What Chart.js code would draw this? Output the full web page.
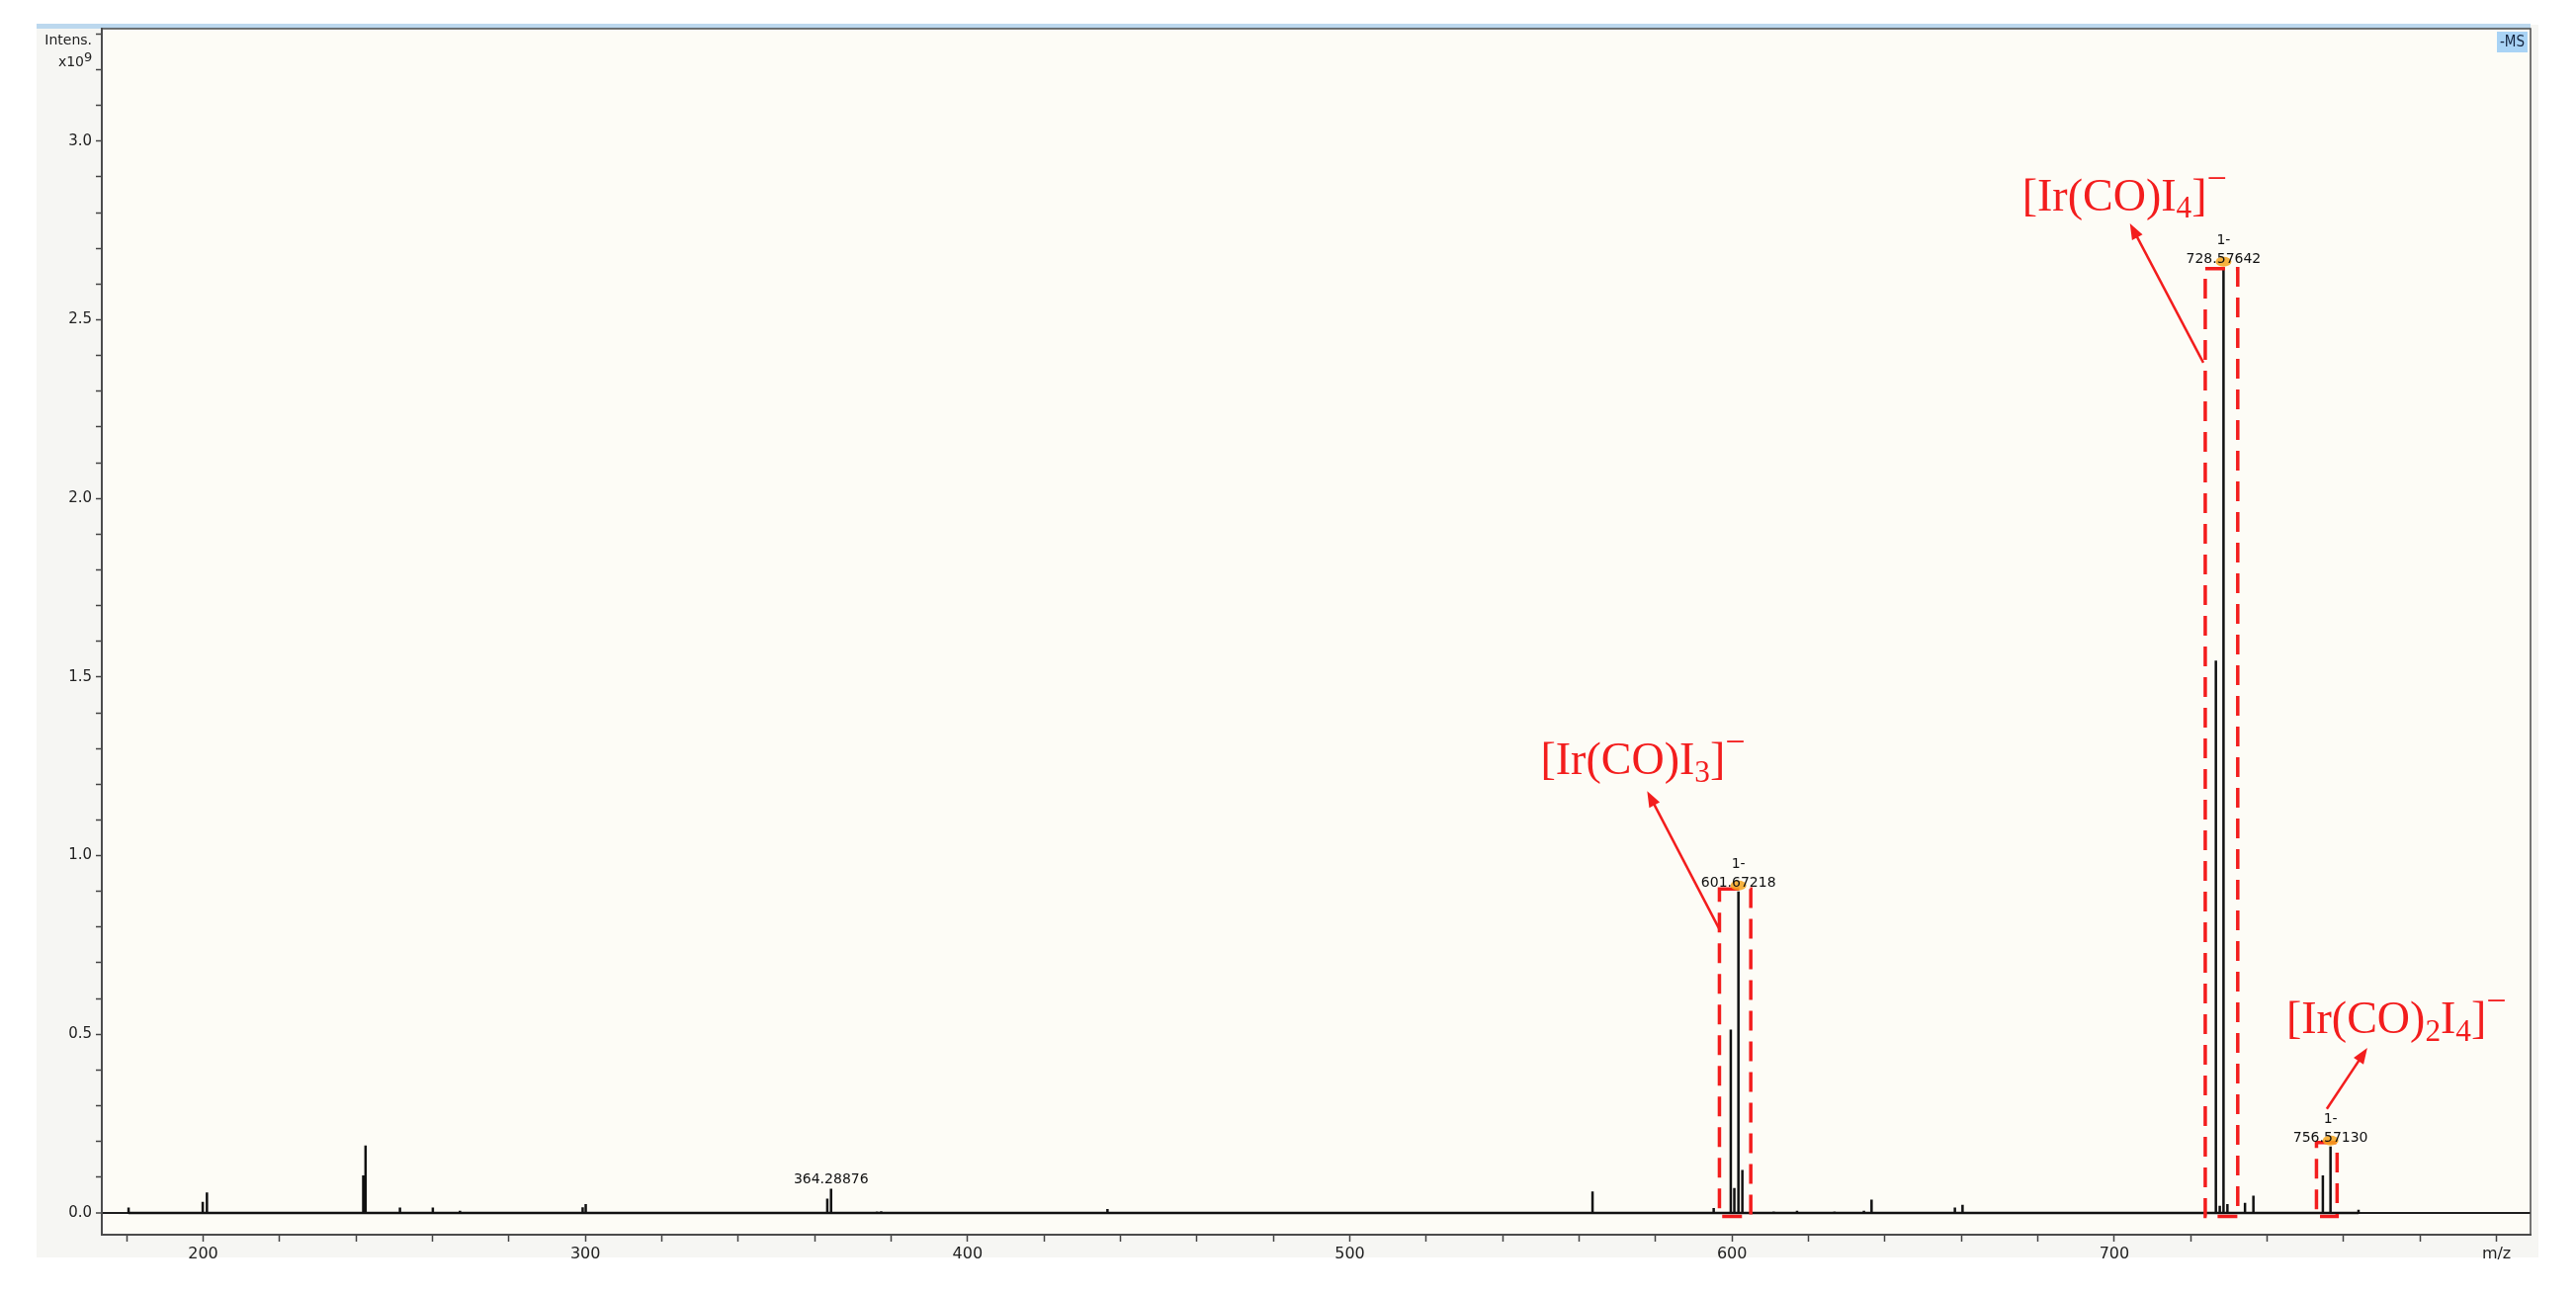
<!DOCTYPE html>
<html>
<head>
<meta charset="utf-8">
<title>-MS spectrum</title>
<script src="https://cdn.jsdelivr.net/npm/chart.js@4.4.1/dist/chart.umd.min.js"></script>
<style>
  html, body { margin: 0; padding: 0; background: #fff; }
  canvas { display: block; }
</style>
</head>
<body>
<canvas id="ms" width="2606" height="1311"></canvas>
<script>
// peak list: m/z and intensity (x10^9)
const peakMz = [180.5, 199.9, 201.0, 241.9, 242.5, 251.5, 260.1, 267.2, 299.3, 300.1,
  363.3, 364.28876, 367.5, 376.3, 377.4, 436.6, 563.5, 595.2,
  599.67, 600.6, 601.67218, 602.7, 610.9, 617.0, 626.8, 634.5, 636.5, 648.6, 658.3, 660.3,
  682.2, 694.3, 726.58, 727.6, 728.57642, 729.6, 734.2, 736.4, 745.3, 754.57, 756.57130, 763.9];
const peakInt = [0.015, 0.031, 0.057, 0.105, 0.189, 0.015, 0.015, 0.006, 0.016, 0.025,
  0.040, 0.068, 0.003, 0.004, 0.005, 0.011, 0.060, 0.014,
  0.513, 0.070, 0.900, 0.120, 0.004, 0.006, 0.004, 0.006, 0.037, 0.003, 0.015, 0.023,
  0.003, 0.003, 1.546, 0.020, 2.646, 0.025, 0.028, 0.048, 0.003, 0.105, 0.186, 0.009];

// labelled peaks
const labelMz = [364.28876, 601.67218, 728.57642, 756.57130];
const labelText = ["364.28876", "601.67218", "728.57642", "756.57130"];
const labelCharge = ["", "1-", "1-", "1-"];

// ion assignments (_ = subscript, ^ = superscript)
const ionName = ["[Ir(CO)I_3]^\u2212", "[Ir(CO)I_4]^\u2212", "[Ir(CO)_2I_4]^\u2212"];
const ionBoxLo = [596.7, 723.8, 752.9];
const ionBoxHi = [604.9, 732.3, 758.3];
const ionBoxTop = [0.907, 2.643, 0.197];
const ionTextMz = [549.9, 675.9, 745.0];
const ionTextInt = [1.228, 2.807, 0.503];
const arrowFrom = [[596.75, 0.793], [723.3, 2.380], [755.6, 0.291]];
const arrowTo = [[577.8, 1.181], [704.1, 2.770], [766.2, 0.462]];

const xTickStep = 20;
const yTickStep = 0.1;

const RED = "#f31d1d";
const spectrum = [];
peakMz.forEach((m, i) => {
  spectrum.push({ x: m, y: 0 }, { x: m, y: peakInt[i] }, { x: m, y: 0 });
});

function drawFormula(ctx, s, x, y, size) {
  let cx = x;
  for (let i = 0; i < s.length; i++) {
    let ch = s[i], sz = size, dy = 0;
    if (ch === "_") { ch = s[++i]; sz = size * 0.68; dy = size * 0.17; }
    else if (ch === "^") { ch = s[++i]; sz = size * 0.78; dy = -size * 0.45; }
    ctx.font = sz + 'px "Liberation Serif", "Times New Roman", serif';
    ctx.fillText(ch, cx, y + dy);
    cx += ctx.measureText(ch).width;
  }
}

function drawArrow(ctx, x1, y1, x2, y2) {
  const a = Math.atan2(y2 - y1, x2 - x1);
  const head = 16, w = 6;
  ctx.beginPath();
  ctx.moveTo(x1, y1);
  ctx.lineTo(x2 - head * 0.7 * Math.cos(a), y2 - head * 0.7 * Math.sin(a));
  ctx.stroke();
  ctx.beginPath();
  ctx.moveTo(x2, y2);
  ctx.lineTo(x2 - head * Math.cos(a) + w * Math.sin(a), y2 - head * Math.sin(a) - w * Math.cos(a));
  ctx.lineTo(x2 - head * Math.cos(a) - w * Math.sin(a), y2 - head * Math.sin(a) + w * Math.cos(a));
  ctx.closePath();
  ctx.fill();
}

const decor = {
  id: "decor",
  beforeDraw(chart) {
    const { ctx, chartArea: a } = chart;
    ctx.save();
    ctx.fillStyle = "#ffffff";
    ctx.fillRect(0, 0, chart.width, chart.height);
    ctx.fillStyle = "#f6f6f3";
    ctx.fillRect(a.left - 66, a.top - 4, a.right - a.left + 74, a.bottom - a.top + 27);
    ctx.fillStyle = "#fdfcf6";
    ctx.fillRect(a.left, a.top, a.right - a.left, a.bottom - a.top);
    ctx.fillStyle = "#bcd8ee";
    ctx.fillRect(a.left - 66, a.top - 5, a.right - a.left + 66, 5);
    ctx.restore();
  },
  afterDatasetsDraw(chart) {
    const { ctx, scales: { x, y } } = chart;
    ctx.save();
    // dashed boxes + arrows
    ctx.strokeStyle = RED;
    ctx.fillStyle = RED;
    ionName.forEach((name, i) => {
      const l = x.getPixelForValue(ionBoxLo[i]), r = x.getPixelForValue(ionBoxHi[i]);
      const t = y.getPixelForValue(ionBoxTop[i]), b = y.getPixelForValue(-0.01);
      ctx.lineWidth = 3.5;
      ctx.setLineDash([20, 11]);
      ctx.strokeRect(l, t, r - l, b - t);
      ctx.setLineDash([]);
      ctx.lineWidth = 2.5;
      drawArrow(ctx, x.getPixelForValue(arrowFrom[i][0]), y.getPixelForValue(arrowFrom[i][1]),
        x.getPixelForValue(arrowTo[i][0]), y.getPixelForValue(arrowTo[i][1]));
      ctx.textAlign = "left";
      ctx.textBaseline = "alphabetic";
      drawFormula(ctx, name, x.getPixelForValue(ionTextMz[i]), y.getPixelForValue(ionTextInt[i]), 46);
    });
    // peak labels
    labelMz.forEach((m, i) => {
      const k = peakMz.indexOf(m);
      const px = x.getPixelForValue(m), py = y.getPixelForValue(peakInt[k]);
      if (labelCharge[i]) {
        ctx.fillStyle = "rgba(245,165,30,0.85)";
        ctx.beginPath();
        ctx.ellipse(px, py - 6, 8, 5, 0, 0, Math.PI * 2);
        ctx.fill();
      }
      ctx.fillStyle = "#111";
      ctx.font = '14px "DejaVu Sans"';
      ctx.textAlign = "center";
      ctx.fillText(labelText[i], px, py - 5);
      if (labelCharge[i]) ctx.fillText(labelCharge[i], px, py - 24);
    });
    ctx.restore();
  },
  afterDraw(chart) {
    const { ctx, chartArea: a } = chart;
    ctx.save();
    ctx.strokeStyle = "#4a4a4a";
    ctx.lineWidth = 1.5;
    ctx.strokeRect(a.left, a.top, a.right - a.left, a.bottom - a.top);
    // -MS badge
    ctx.fillStyle = "#a9d3f5";
    ctx.fillRect(a.right - 34, a.top + 3, 31, 21);
    ctx.fillStyle = "#13233d";
    ctx.font = '15px "DejaVu Sans Condensed", "DejaVu Sans"';
    ctx.textAlign = "center";
    ctx.textBaseline = "middle";
    ctx.fillText("-MS", a.right - 18.5, a.top + 14);
    // axis unit
    ctx.fillStyle = "#222";
    ctx.font = '14px "DejaVu Sans"';
    ctx.textAlign = "right";
    ctx.textBaseline = "alphabetic";
    ctx.fillText("Intens.", a.left - 10, a.top + 16);
    ctx.fillText("x10", a.left - 18, a.top + 38);
    ctx.font = '13px "DejaVu Sans"';
    ctx.textAlign = "left";
    ctx.fillText("9", a.left - 18, a.top + 33);
    ctx.restore();
  },
};

new Chart(document.getElementById("ms"), {
  type: "line",
  data: {
    datasets: [{
      data: spectrum,
      borderColor: "#111",
      borderWidth: 2.5,
      borderJoinStyle: "bevel",
      pointRadius: 0,
      tension: 0,
      fill: false,
    }],
  },
  options: {
    responsive: false,
    devicePixelRatio: 1,
    animation: false,
    layout: { padding: { top: 29, right: 46, left: 0, bottom: 0 } },
    plugins: { legend: { display: false }, tooltip: { enabled: false } },
    scales: {
      x: {
        type: "linear", min: 173.5, max: 808.9,
        afterBuildTicks: (s) => {
          s.ticks = s.ticks.filter((t) => Math.abs(t.value / xTickStep - Math.round(t.value / xTickStep)) < 1e-6);
        },
        afterFit: (s) => { s.height = 62; },
        ticks: {
          stepSize: xTickStep, includeBounds: false, autoSkip: false, maxRotation: 0, padding: 3, color: "#222",
          font: { family: "DejaVu Sans", size: 16 },
          callback: (v) => {
            const r = Math.round(v);
            if (r % 100 !== 0) return "";
            return r === 800 ? "m/z" : String(r);
          },
        },
        grid: { drawOnChartArea: false, tickColor: "#444", tickLength: 7, tickWidth: 1.5 },
        border: { display: true, color: "#555", width: 2 },
      },
      y: {
        min: -0.061, max: 3.315,
        afterBuildTicks: (s) => {
          s.ticks = s.ticks.filter((t) => Math.abs(t.value / yTickStep - Math.round(t.value / yTickStep)) < 1e-6);
        },
        afterFit: (s) => { s.width = 103; },
        ticks: {
          stepSize: yTickStep, includeBounds: false, autoSkip: false, padding: 4, color: "#222",
          font: { family: "DejaVu Sans", size: 15 },
          callback: (v) => (Math.abs(v * 2 - Math.round(v * 2)) < 1e-6 ? Math.abs(v).toFixed(1) : ""),
        },
        grid: {
          drawOnChartArea: true,
          color: (c) => (c.tick && Math.abs(c.tick.value) < 1e-9 ? "#1e1e1e" : "rgba(0,0,0,0)"),
          lineWidth: (c) => (c.tick && Math.abs(c.tick.value) < 1e-9 ? 2 : 1),
          tickColor: "#444", tickLength: 6, tickWidth: 1.5,
        },
        border: { display: true, color: "#555", width: 2 },
      },
    },
  },
  plugins: [decor],
});
</script>
</body>
</html>
